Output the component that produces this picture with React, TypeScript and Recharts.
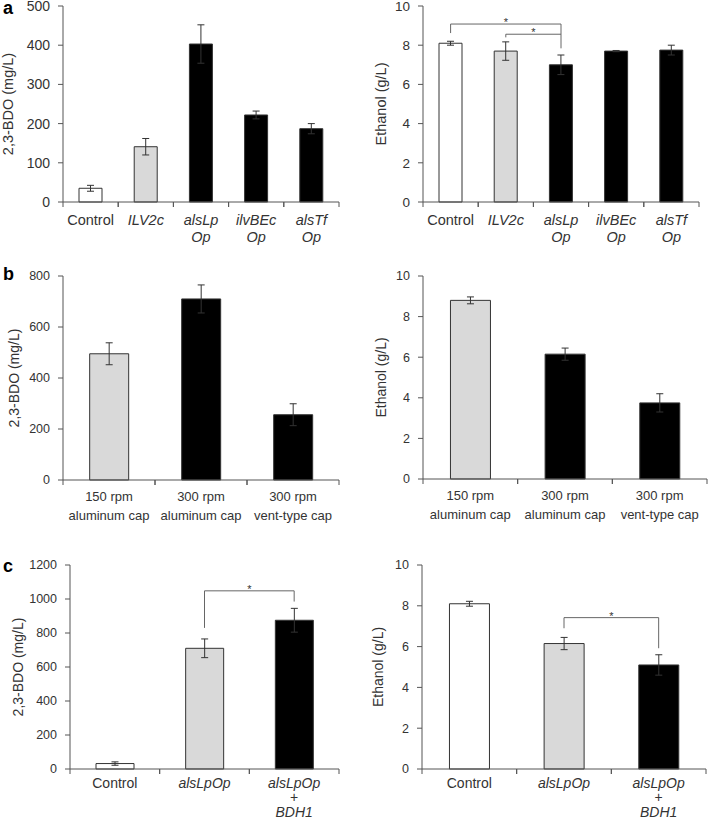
import React from "react";
import { BarChart, Bar, XAxis, YAxis, ErrorBar, Cell, ReferenceLine } from "recharts";

const FONT = '"Liberation Sans", Arial, Helvetica, sans-serif';
const INK = "#333";
const AXIS = "#555";
const BRACKET = "#666";
const FILL: Record<string, string> = { ctrl: "#ffffff", single: "#d9d9d9", op: "#000000" };

// panel a
const catA = ["Control", "ILV2c", "alsLp\nOp", "ilvBEc\nOp", "alsTf\nOp"];
const kindA = ["ctrl", "single", "op", "op", "op"];
const bdoA = [35, 141, 403, 222, 187];
const bdoErrA = [7.5, 21, 49, 10, 13];
const ethA = [8.1, 7.7, 7.0, 7.7, 7.75];
const ethErrA = [0.1, 0.47, 0.5, 0.03, 0.25];

// panel b
const catB = ["150 rpm\naluminum cap", "300 rpm\naluminum cap", "300 rpm\nvent-type cap"];
const kindB = ["single", "op", "op"];
const bdoB = [495, 710, 256];
const bdoErrB = [43, 55, 43];
const ethB = [8.8, 6.15, 3.75];
const ethErrB = [0.17, 0.3, 0.45];

// panel c
const catC = ["Control", "alsLpOp", "alsLpOp\n+\nBDH1"];
const kindC = ["ctrl", "single", "op"];
const bdoC = [32, 710, 875];
const bdoErrC = [10, 55, 70];
const ethC = [8.1, 6.15, 5.1];
const ethErrC = [0.12, 0.3, 0.5];

const ticksBdoA = [0, 100, 200, 300, 400, 500];
const ticksBdoB = [0, 200, 400, 600, 800];
const ticksBdoC = [0, 200, 400, 600, 800, 1000, 1200];
const ticksEth = [0, 2, 4, 6, 8, 10];

// significance brackets: level y, left drop to y1, right drop to y2
type Sig = { from: string; to: string; y: number; y1: number; y2: number };
const sigEthA: Sig[] = [
  { from: "Control", to: "alsLp\nOp", y: 9.08, y1: 8.62, y2: 7.84 },
  { from: "ILV2c", to: "alsLp\nOp", y: 8.56, y1: 8.4, y2: 8.56 },
];
const sigBdoC: Sig[] = [{ from: "alsLpOp", to: "alsLpOp\n+\nBDH1", y: 1048, y1: 830, y2: 985 }];
const sigEthC: Sig[] = [{ from: "alsLpOp", to: "alsLpOp\n+\nBDH1", y: 7.42, y1: 6.9, y2: 5.92 }];

type Box = { x: number; y: number; w: number; h: number };
type Plot = { l: number; t: number; r: number; b: number };

type PanelProps = {
  box: Box;
  plot: Plot;
  cats: string[];
  kinds: string[];
  values: number[];
  errs: number[];
  max: number;
  ticks: number[];
  ylabel: string;
  ylabelX: number;
  tickFont: number;
  catFont: number;
  labelFont: number;
  line1: number;
  lineGap: number;
  italic: boolean;
  sig?: Sig[];
};

function CatTick(props: any) {
  const { x, y, payload, band, font, first, gap, italic } = props;
  const lines = String(payload.value).split("\n");
  return (
    <g>
      <line x1={x - band / 2} x2={x - band / 2} y1={y} y2={y + 5} stroke={AXIS} />
      <line x1={x + band / 2} x2={x + band / 2} y1={y} y2={y + 5} stroke={AXIS} />
      <text x={x} y={y + first} textAnchor="middle" fontSize={font} fontFamily={FONT} fill={INK}>
        {lines.map((ln, i) => (
          <tspan
            key={i}
            x={x}
            dy={i === 0 ? 0 : gap}
            fontStyle={italic && ln !== "Control" && ln !== "+" ? "italic" : "normal"}
          >
            {ln}
          </tspan>
        ))}
      </text>
    </g>
  );
}

function Panel(p: PanelProps) {
  const data = p.cats.map((name, i) => ({ name, v: p.values[i], e: p.errs[i], kind: p.kinds[i] }));
  const band = (p.plot.r - p.plot.l) / p.cats.length;
  return (
    <div style={{ position: "absolute", left: p.box.x, top: p.box.y }}>
      <BarChart
        width={p.box.w}
        height={p.box.h}
        data={data}
        margin={{ top: p.plot.t - p.box.y, right: p.box.x + p.box.w - p.plot.r, bottom: 0, left: 0 }}
        barCategoryGap="29%"
      >
        <XAxis
          dataKey="name"
          interval={0}
          height={p.box.y + p.box.h - p.plot.b}
          tickLine={false}
          tickSize={0}
          tickMargin={0}
          stroke={AXIS}
          tick={(tp: any) => (
            <CatTick {...tp} band={band} font={p.catFont} first={p.line1} gap={p.lineGap} italic={p.italic} />
          )}
        />
        <XAxis xAxisId="top" orientation="top" dataKey="name" height={0} tick={false} tickLine={false} stroke={AXIS} />
        <YAxis
          domain={[0, p.max]}
          ticks={p.ticks}
          interval={0}
          width={p.plot.l - p.box.x}
          tickSize={5}
          tickMargin={8}
          stroke={AXIS}
          tick={{ fill: INK, fontSize: p.tickFont, fontFamily: FONT }}
          label={{
            value: p.ylabel,
            angle: -90,
            position: "insideLeft",
            offset: p.ylabelX - p.box.x,
            fill: INK,
            fontSize: p.labelFont,
            fontFamily: FONT,
            style: { textAnchor: "middle" },
          }}
        />
        <YAxis yAxisId="right" orientation="right" domain={[0, p.max]} width={0} tick={false} tickLine={false} stroke={AXIS} />
        <Bar dataKey="v" isAnimationActive={false} stroke={INK} strokeWidth={1}>
          {data.map((d, i) => (
            <Cell key={i} fill={FILL[d.kind]} />
          ))}
          <ErrorBar dataKey="e" width={3.5} stroke={INK} strokeWidth={1} direction="y" />
        </Bar>
        {(p.sig ?? []).map((s, k) => (
          <React.Fragment key={k}>
            <ReferenceLine
              segment={[{ x: s.from, y: s.y }, { x: s.to, y: s.y }]}
              stroke={BRACKET}
              label={{ value: "*", position: "top", offset: -2, fontSize: 11, fill: INK, fontFamily: FONT }}
            />
            <ReferenceLine segment={[{ x: s.from, y: s.y }, { x: s.from, y: s.y1 }]} stroke={BRACKET} />
            <ReferenceLine segment={[{ x: s.to, y: s.y }, { x: s.to, y: s.y2 }]} stroke={BRACKET} />
          </React.Fragment>
        ))}
      </BarChart>
    </div>
  );
}

export default function App() {
  return (
    <div style={{ position: "absolute", left: 0, top: 0, width: 708, height: 819, background: "#fff", fontFamily: FONT }}>
      <Panel
        box={{ x: 0, y: 0, w: 354, h: 262 }}
        plot={{ l: 63, t: 6, r: 339, b: 202 }}
        cats={catA} kinds={kindA} values={bdoA} errs={bdoErrA}
        max={500} ticks={ticksBdoA} ylabel="2,3-BDO (mg/L)" ylabelX={8}
        tickFont={14} catFont={14.5} labelFont={14.5} line1={23} lineGap={16.5} italic
      />
      <Panel
        box={{ x: 354, y: 0, w: 354, h: 262 }}
        plot={{ l: 423, t: 6, r: 699, b: 202 }}
        cats={catA} kinds={kindA} values={ethA} errs={ethErrA}
        max={10} ticks={ticksEth} ylabel="Ethanol (g/L)" ylabelX={381}
        tickFont={13.5} catFont={14.5} labelFont={14.5} line1={23} lineGap={16.5} italic
        sig={sigEthA}
      />
      <Panel
        box={{ x: 0, y: 262, w: 354, h: 283 }}
        plot={{ l: 63, t: 276, r: 339, b: 480 }}
        cats={catB} kinds={kindB} values={bdoB} errs={bdoErrB}
        max={800} ticks={ticksBdoB} ylabel="2,3-BDO (mg/L)" ylabelX={14.5}
        tickFont={12.5} catFont={13} labelFont={14} line1={20.7} lineGap={19.3} italic={false}
      />
      <Panel
        box={{ x: 354, y: 262, w: 354, h: 283 }}
        plot={{ l: 423, t: 276, r: 707, b: 479 }}
        cats={catB} kinds={kindB} values={ethB} errs={ethErrB}
        max={10} ticks={ticksEth} ylabel="Ethanol (g/L)" ylabelX={381.5}
        tickFont={12.5} catFont={13} labelFont={14} line1={20.7} lineGap={19.3} italic={false}
      />
      <Panel
        box={{ x: 0, y: 545, w: 354, h: 274 }}
        plot={{ l: 70, t: 565, r: 339, b: 769 }}
        cats={catC} kinds={kindC} values={bdoC} errs={bdoErrC}
        max={1200} ticks={ticksBdoC} ylabel="2,3-BDO (mg/L)" ylabelX={18.5}
        tickFont={12.5} catFont={14} labelFont={14} line1={18.5} lineGap={14.5} italic
        sig={sigBdoC}
      />
      <Panel
        box={{ x: 354, y: 545, w: 354, h: 274 }}
        plot={{ l: 422, t: 565, r: 706, b: 769 }}
        cats={catC} kinds={kindC} values={ethC} errs={ethErrC}
        max={10} ticks={ticksEth} ylabel="Ethanol (g/L)" ylabelX={378}
        tickFont={12.5} catFont={14} labelFont={14} line1={18.5} lineGap={14.5} italic
        sig={sigEthC}
      />
      <svg width={708} height={819} style={{ position: "absolute", left: 0, top: 0, pointerEvents: "none" }}>
        <text x={3} y={14} fontSize={18} fontWeight="bold" fontFamily={FONT} fill="#000">a</text>
        <text x={3} y={280} fontSize={18} fontWeight="bold" fontFamily={FONT} fill="#000">b</text>
        <text x={3} y={572} fontSize={18} fontWeight="bold" fontFamily={FONT} fill="#000">c</text>
      </svg>
    </div>
  );
}
